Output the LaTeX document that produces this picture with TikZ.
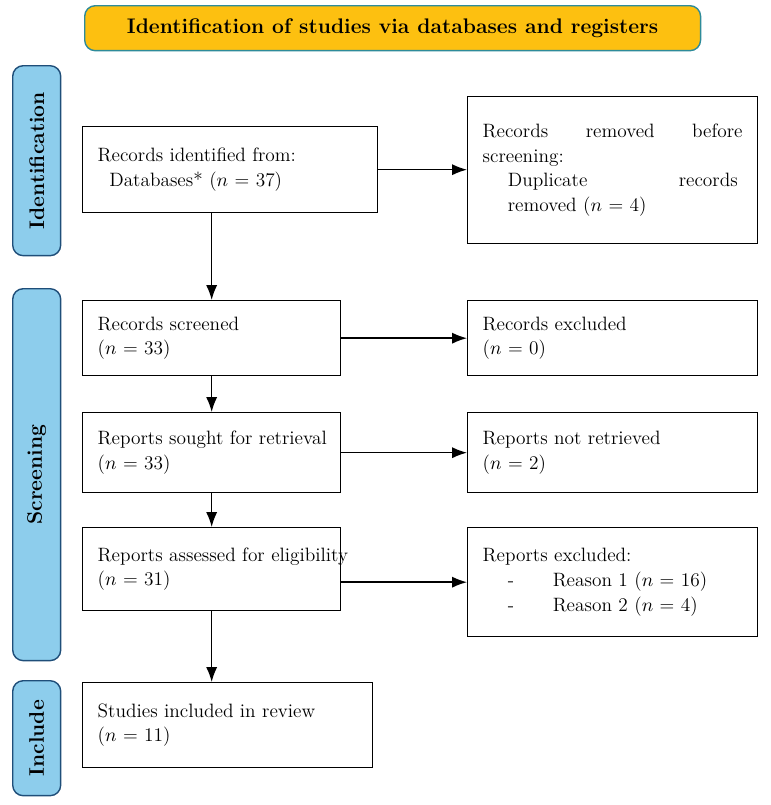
\documentclass[tikz,border=0pt]{standalone}
\usepackage{tikz}
\usetikzlibrary{positioning, arrows.meta}
\definecolor{bannerfill}{HTML}{FDC010}
\definecolor{bannerdraw}{HTML}{2E8B9A}
\definecolor{sidefill}{HTML}{8DCDEC}
\definecolor{sidedraw}{HTML}{1F4E79}
\tikzset{
  box/.style={rectangle, draw, thick, align=left, font=\fontsize{11}{14}\selectfont, inner xsep=0.3cm, inner ysep=4pt, anchor=north west},
  side/.style={rectangle, rounded corners=6pt, draw=sidedraw, thick, fill=sidefill, font=\large\bfseries, anchor=north west},
  arrow/.style={-{Latex[length=3mm]}, thick},
}

\begin{document}
\begin{tikzpicture}[x=0.02cm, y=-0.02cm]
  \useasboundingbox (0,0) rectangle (771,805);

  % Banner
  \node[rectangle, rounded corners=6pt, draw=bannerdraw, thick, fill=bannerfill, anchor=north west,
        minimum width=12.32cm, minimum height=0.9cm, font=\large\bfseries] (banner) at (84,5)
        {Identification of studies via databases and registers};

  % Side bars
  \node[side, minimum width=0.96cm, minimum height=3.8cm] (sideid) at (12,65) {};
  \node[rotate=90, font=\large\bfseries] at (sideid.center) {Identification};
  \node[side, minimum width=0.96cm, minimum height=7.44cm] (sidescr) at (12,288) {};
  \node[rotate=90, font=\large\bfseries] at (sidescr.center) {Screening};
  \node[side, minimum width=0.96cm, minimum height=2.3cm] (sideinc) at (12,680) {};
  \node[rotate=90, font=\large\bfseries] at (sideinc.center) {Include};

  % Left column
  \node[box, minimum width=5.9cm, minimum height=1.72cm, text width=5.3cm] (ident) at (82,126)
    {Records identified from:\\\hspace*{0.6em}Databases* ($n$ = 37)};
  \node[box, minimum width=5.16cm, minimum height=1.5cm, text width=4.56cm] (screened) at (82,300)
    {Records screened\\($n$ = 33)};
  \node[box, minimum width=5.16cm, minimum height=1.6cm, text width=4.56cm] (sought) at (82,412)
    {\mbox{Reports sought for retrieval}\\($n$ = 33)};
  \node[box, minimum width=5.16cm, minimum height=1.66cm, text width=4.56cm] (assessed) at (82,527)
    {\mbox{Reports assessed for eligibility}\\($n$ = 31)};
  \node[box, minimum width=5.8cm, minimum height=1.7cm, text width=5.2cm] (included) at (82,682)
    {Studies included in review\\($n$ = 11)};

  % Right column
  \node[box, minimum width=5.8cm, minimum height=2.94cm, text width=5.2cm] (removed) at (467,96)
    {\makebox[5.2cm][l]{Records\hfill removed\hfill before}\\
     screening:\\
     \hspace*{1.3em}\makebox[4.6cm][l]{Duplicate\hfill records}\\
     \hspace*{1.3em}removed ($n$ = 4)};
  \node[box, minimum width=5.8cm, minimum height=1.5cm, text width=5.2cm] (excluded) at (467,300)
    {Records excluded\\($n$ = 0)};
  \node[box, minimum width=5.8cm, minimum height=1.6cm, text width=5.2cm] (notret) at (467,412)
    {Reports not retrieved\\($n$ = 2)};
  \node[box, minimum width=5.8cm, minimum height=2.18cm, text width=5.2cm] (repexcl) at (467,527)
    {Reports excluded:\\
     \hspace*{1.3em}-\hspace{2em}Reason 1 ($n$ = 16)\\
     \hspace*{1.3em}-\hspace{2em}Reason 2 ($n$ = 4)};

  % Arrows
  \draw[arrow] (ident.south -| screened.north) -- (screened.north);
  \draw[arrow] (screened.south) -- (sought.north);
  \draw[arrow] (sought.south) -- (assessed.north);
  \draw[arrow] (assessed.south) -- (included.north -| assessed.south);
  \draw[arrow] (ident.east) -- (removed.west |- ident.east);
  \draw[arrow] (screened.east) -- (excluded.west);
  \draw[arrow] (sought.east |- notret.west) -- (notret.west);
  \draw[arrow] (assessed.east |- repexcl.west) -- (repexcl.west);
\end{tikzpicture}
\end{document}
